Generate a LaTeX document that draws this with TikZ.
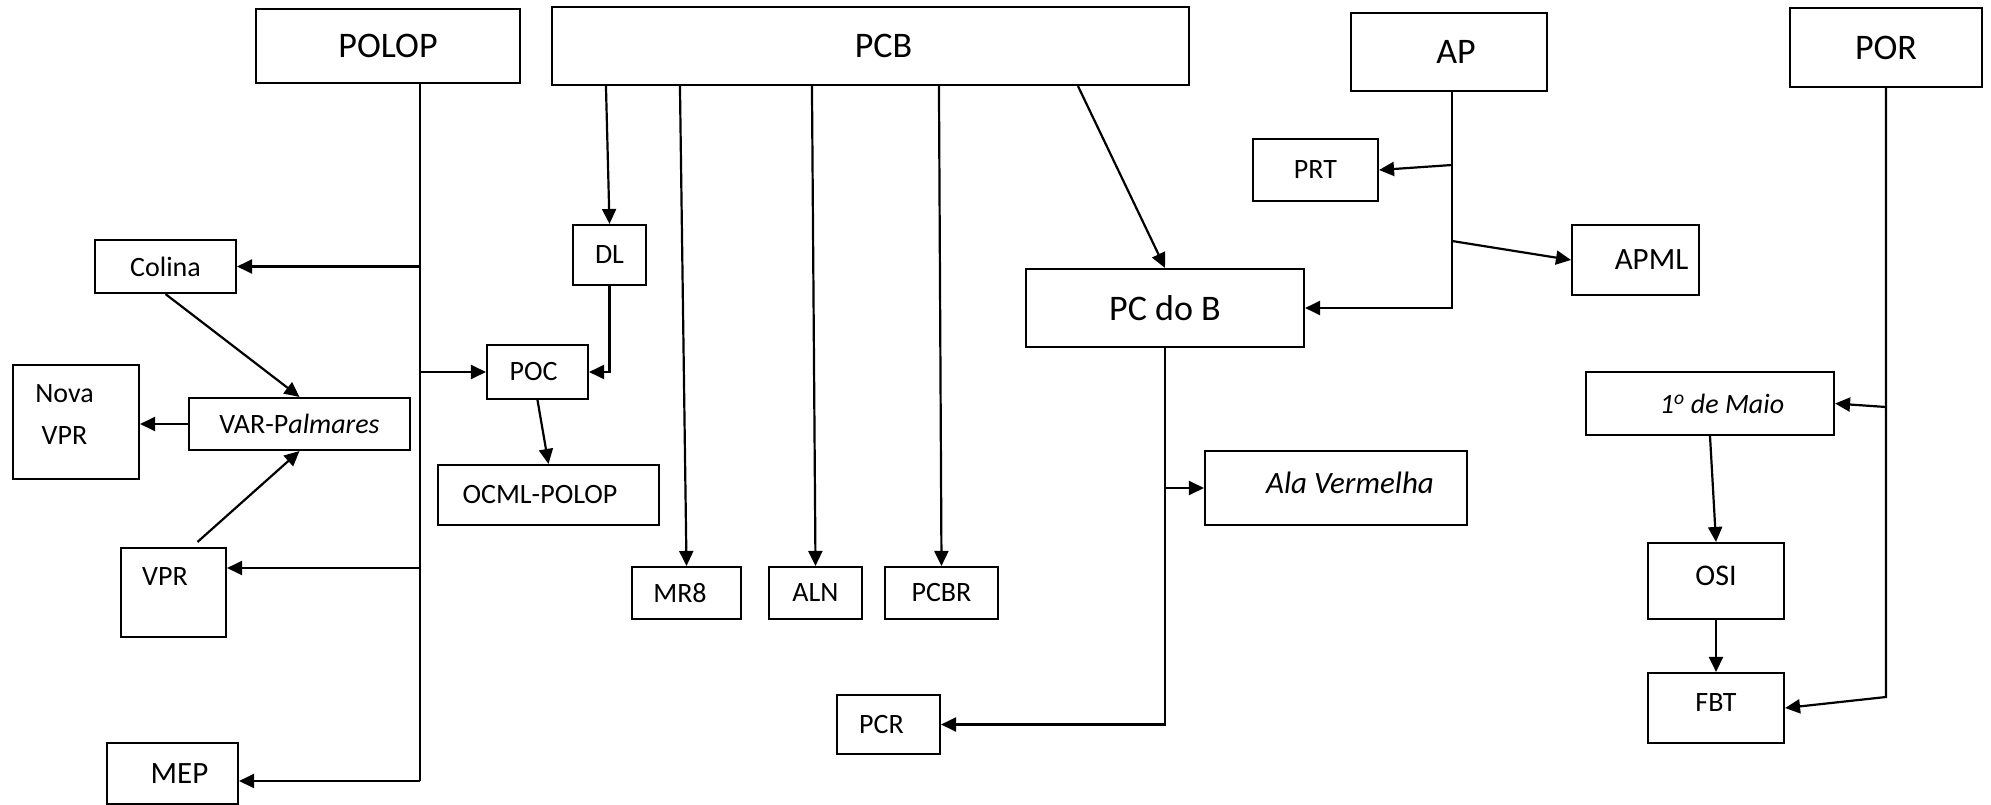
\documentclass[tikz,border=0pt]{standalone}
\usepackage{fontspec}
\setmainfont{Carlito}
\usetikzlibrary{arrows.meta,calc}
\begin{document}
\begin{tikzpicture}[x=1pt,y=-1pt,
  box/.style={draw,line width=2.1pt,inner sep=0pt,rectangle,font=\fontsize{28}{34}\selectfont},
  big/.style={font=\fontsize{36}{43}\selectfont},
  mid/.style={font=\fontsize{31}{37}\selectfont},
  ln/.style={line width=2.2pt},
  arr/.style={line width=2.2pt,-{Triangle[length=15pt,width=14pt]}},
]
\useasboundingbox (0,0) rectangle (1991,805);

% top-level boxes
\node[box,big,minimum width=264pt,minimum height=74pt] (POLOP) at (388,46) {POLOP};
\node[box,big,minimum width=637pt,minimum height=78pt] (PCB) at (870.5,46) {\hspace*{26pt}PCB};
\node[box,big,minimum width=196pt,minimum height=78pt] (AP) at (1449,52) {\hspace*{14pt}AP};
\node[box,big,minimum width=192pt,minimum height=79pt] (POR) at (1886,47.5) {POR};
\node[box,big,minimum width=278pt,minimum height=78pt] (PCdoB) at (1165,308) {PC do B};

% left group
\node[box,minimum width=141pt,minimum height=53pt] (Colina) at (165.5,266.5) {Colina};
\node[box,minimum width=126pt,minimum height=114pt,align=center,font=\fontsize{28}{42}\selectfont,text depth=14pt] (NovaVPR) at (76,422) {Nova\hspace*{23pt}\\VPR\hspace*{23pt}};
\node[box,minimum width=221pt,minimum height=52pt] (VAR) at (299.5,424) {VAR-P\textit{almares}};
\node[box,minimum width=105pt,minimum height=89pt,text depth=31pt] (VPR) at (173.5,592.5) {VPR\hspace*{17pt}};
\node[box,mid,minimum width=131pt,minimum height=61pt] (MEP) at (172.5,773.5) {\hspace*{14pt}MEP};

% PCB group
\node[box,minimum width=73pt,minimum height=60pt] (DL) at (609.5,255) {DL};
\node[box,minimum width=101pt,minimum height=54pt] (POC) at (537.5,372) {POC\hspace*{8pt}};
\node[box,minimum width=221pt,minimum height=60pt] (OCML) at (548.5,495) {OCML-POLOP\hspace*{17pt}};
\node[box,minimum width=109pt,minimum height=52pt] (MR8) at (686.5,593) {MR8\hspace*{13pt}};
\node[box,minimum width=93pt,minimum height=52pt] (ALN) at (815.5,593) {ALN};
\node[box,minimum width=113pt,minimum height=52pt] (PCBR) at (941.5,593) {PCBR};
\node[box,minimum width=103pt,minimum height=59pt] (PCR) at (888.5,724.5) {PCR\hspace*{14pt}};
\node[box,mid,minimum width=262pt,minimum height=74pt,text depth=10pt] (Ala) at (1336,488) {\hspace*{28pt}\textit{Ala Vermelha}};

% AP group
\node[box,minimum width=125pt,minimum height=62pt] (PRT) at (1315.5,170) {PRT};
\node[box,mid,minimum width=127pt,minimum height=70pt] (APML) at (1635.5,260) {\hspace*{32pt}APML};

% POR group
\node[box,minimum width=248pt,minimum height=63pt] (Maio) at (1710,403.5) {\hspace*{24pt}\textit{1\textsuperscript{o} de Maio}};
\node[box,font=\fontsize{30}{36}\selectfont,minimum width=136pt,minimum height=76pt,text depth=10pt] (OSI) at (1716,581) {OSI};
\node[box,minimum width=136pt,minimum height=70pt,text depth=10pt] (FBT) at (1716,708) {FBT};

% junction coordinates
\coordinate (polopEnd) at (420,781);
\coordinate (polopVPR) at (420,568);
\coordinate (apJ1) at (1452,165);
\coordinate (apJ2) at (1452,241);
\coordinate (porJ) at (1886,407);
\coordinate (porEnd) at (1886,697);

% POLOP connectors
\draw[ln] (POLOP.south -| polopEnd) -- (polopEnd);
\draw[arr] (polopEnd |- Colina.east) -- (Colina.east);
\draw[arr] (polopEnd |- POC.west) -- (POC.west);
\draw[arr] (polopVPR) -- (VPR.east |- polopVPR);
\draw[arr] (polopEnd) -- (MEP.east |- polopEnd);
\draw[arr] (Colina.south) -- (VAR.north);
\draw[arr] (VAR.west) -- (NovaVPR.east |- VAR.west);
\draw[arr] ([xshift=24pt,yshift=5pt]VPR.north) -- (VAR.south);

% PCB connectors
\draw[arr] ([xshift=55pt]PCB.south west) -- (DL.north);
\draw[arr] ([xshift=129pt]PCB.south west) -- (MR8.north);
\draw[arr] ([xshift=261pt]PCB.south west) -- (ALN.north);
\draw[arr] ([xshift=388pt]PCB.south west) -- (PCBR.north);
\draw[arr] ([xshift=527pt]PCB.south west) -- (PCdoB.north);
\draw[arr] (DL.south) |- (POC.east);
\draw[arr] (POC.south) -- (OCML.north);
\draw[arr] (PCdoB.south) |- (PCR.east);
\draw[arr] (PCdoB.south |- Ala.west) -- (Ala.west);

% AP connectors
\draw[arr] ([xshift=3pt]AP.south) |- (PCdoB.east);
\draw[arr] (apJ1) -- (PRT.east);
\draw[arr] (apJ2) -- (APML.west);

% POR connectors
\draw[arr] (POR.south) -- (porEnd) -- (FBT.east);
\draw[arr] (porJ) -- (Maio.east);
\draw[arr] (Maio.south) -- (OSI.north);
\draw[arr] (OSI.south) -- (FBT.north);
\end{tikzpicture}
\end{document}
